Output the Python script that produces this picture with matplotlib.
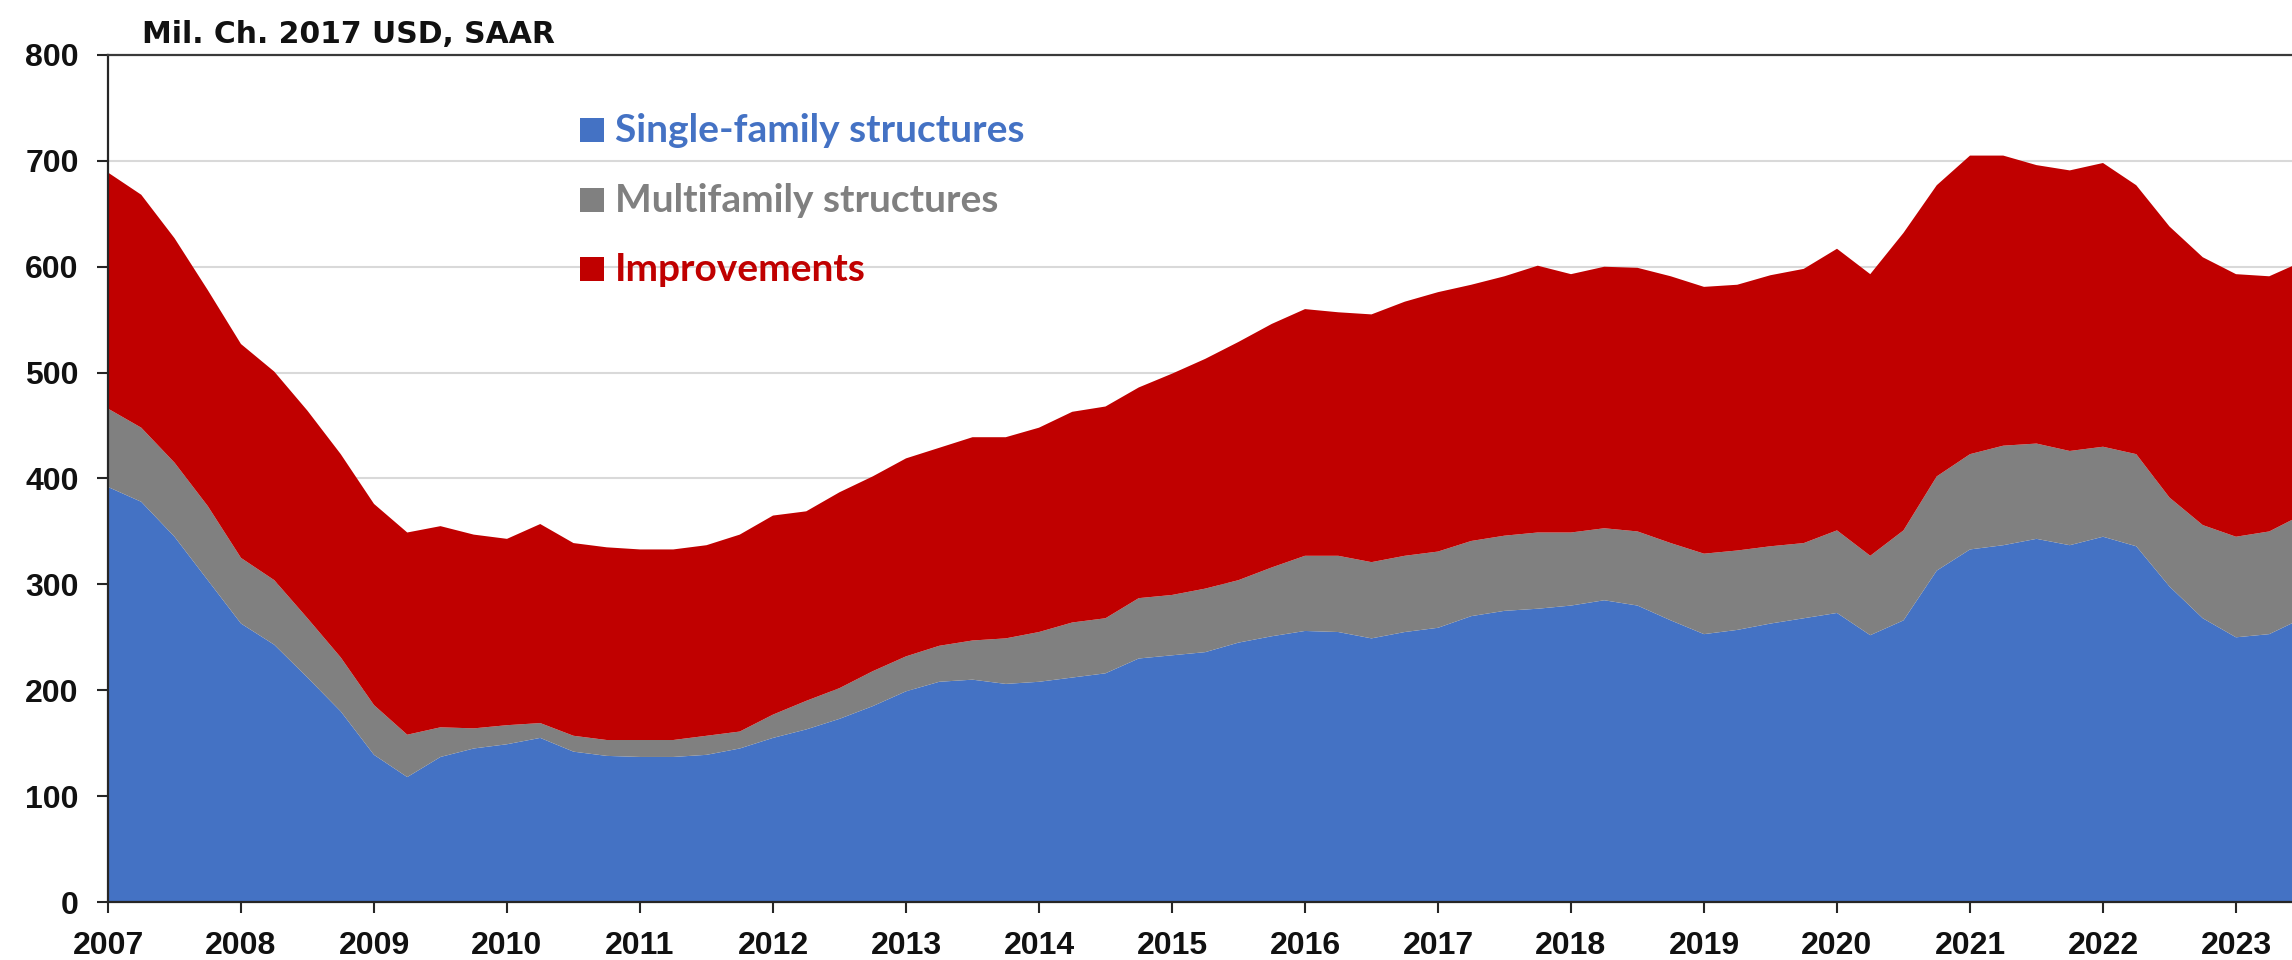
import matplotlib.pyplot as plt
import matplotlib.patches as mplpatches
import numpy as np

# data: quarterly, 2007Q1 onward, Mil. Ch. 2017 USD, SAAR --------------------------------------------------------------

startYear = 2007
singleFamily = [392, 378, 345, 304, 263, 243, 212, 180, 139, 118, 137, 145, 149, 155, 142, 138,
                137, 137, 139, 145, 155, 163, 173, 185, 199, 208, 210, 206, 208, 212, 216, 230,
                233, 236, 245, 251, 256, 255, 249, 255, 259, 270, 275, 277, 280, 285, 280, 266,
                253, 257, 263, 268, 273, 252, 266, 313, 333, 337, 343, 337, 345, 336, 298, 268,
                250, 253, 268]
multiFamily = [74, 70, 70, 70, 62, 61, 56, 51, 47, 40, 28, 19, 18, 14, 15, 15,
               16, 16, 18, 16, 22, 27, 29, 33, 33, 34, 37, 43, 47, 52, 52, 57,
               57, 60, 59, 65, 71, 72, 72, 72, 72, 71, 71, 72, 69, 68, 70, 73,
               76, 75, 73, 71, 78, 75, 85, 89, 90, 94, 90, 89, 85, 87, 84, 88,
               95, 97, 98]
improvements = [223, 220, 212, 204, 202, 197, 196, 192, 190, 191, 190, 183, 176, 188, 182, 182,
                180, 180, 180, 186, 188, 179, 185, 184, 187, 187, 192, 190, 193, 199, 200, 199,
                209, 217, 225, 230, 233, 230, 234, 240, 245, 242, 245, 252, 244, 247, 249, 252,
                252, 251, 256, 259, 266, 266, 281, 275, 282, 274, 263, 265, 268, 254, 256, 253,
                248, 241, 239]

seriesNames = ['Single-family structures', 'Multifamily structures', 'Improvements']
seriesColors = ['#4472C4', '#808080', '#C00000']
yearTicks = list(range(2007, 2024))
yTicks = list(range(0, 900, 100))

quarterPositions = startYear + np.arange(len(singleFamily)) / 4

# figure and panel -----------------------------------------------------------------------------------------------------

figureWidth = 22.92
figureHeight = 9.6
fig = plt.figure(figsize=(figureWidth, figureHeight), dpi=100)

pxW = figureWidth * 100
pxH = figureHeight * 100

panelLeft, panelRight, panelTop, panelBottom = 108, 2292, 55, 902   # pixel edges
panel1 = plt.axes([panelLeft / pxW, (pxH - panelBottom) / pxH,
                   (panelRight - panelLeft) / pxW, (panelBottom - panelTop) / pxH])

pxPerYear = 133.0
panel1.set_xlim(startYear, startYear + (panelRight - panelLeft) / pxPerYear)
panel1.set_ylim(0, 800)

# stacked areas
panel1.stackplot(quarterPositions, singleFamily, multiFamily, improvements,
                 colors=seriesColors, linewidth=0, zorder=2)

# gridlines and axes
for yValue in yTicks[1:-1]:
    panel1.axhline(yValue, color='#D9D9D9', linewidth=1.5, zorder=1)

for side in ['left', 'bottom', 'top']:
    panel1.spines[side].set_color('#262626')
    panel1.spines[side].set_linewidth(1.6)
    panel1.spines[side].set_zorder(3)
panel1.spines['top'].set_color('#3a3a3a')
panel1.spines['right'].set_visible(False)

panel1.set_xticks(yearTicks)
panel1.set_xticklabels([str(y) for y in yearTicks])
panel1.set_yticks(yTicks)
panel1.set_yticklabels([str(y) for y in yTicks])

panel1.tick_params(axis='both', direction='out', length=8, width=1.5, color='#262626',
                   labelsize=23, labelcolor='#111111')
panel1.tick_params(axis='y', pad=13)
panel1.tick_params(axis='x', pad=13)
for label in panel1.get_xticklabels() + panel1.get_yticklabels():
    label.set_fontfamily('Liberation Sans')
    label.set_fontweight('bold')

# unit label above the panel
fig.text(142 / pxW, (pxH - 43) / pxH, 'Mil. Ch. 2017 USD, SAAR',
         fontsize=21.5, fontfamily='DejaVu Sans', fontweight='bold', color='#111111',
         ha='left', va='baseline')

# legend: coloured squares with matching coloured text
legendBaselines = [142, 212, 281]
squareSize = 24
for name, color, baseline in zip(seriesNames, seriesColors, legendBaselines):
    square = mplpatches.Rectangle((580 / pxW, (pxH - baseline) / pxH),
                                  squareSize / pxW, squareSize / pxH,
                                  transform=fig.transFigure, facecolor=color,
                                  edgecolor='none', zorder=5)
    fig.patches.append(square)
    fig.text(615 / pxW, (pxH - baseline) / pxH, name,
             fontsize=28, fontfamily='Lato', fontweight='bold', color=color,
             ha='left', va='baseline')

plt.savefig('out.png', dpi=100)
